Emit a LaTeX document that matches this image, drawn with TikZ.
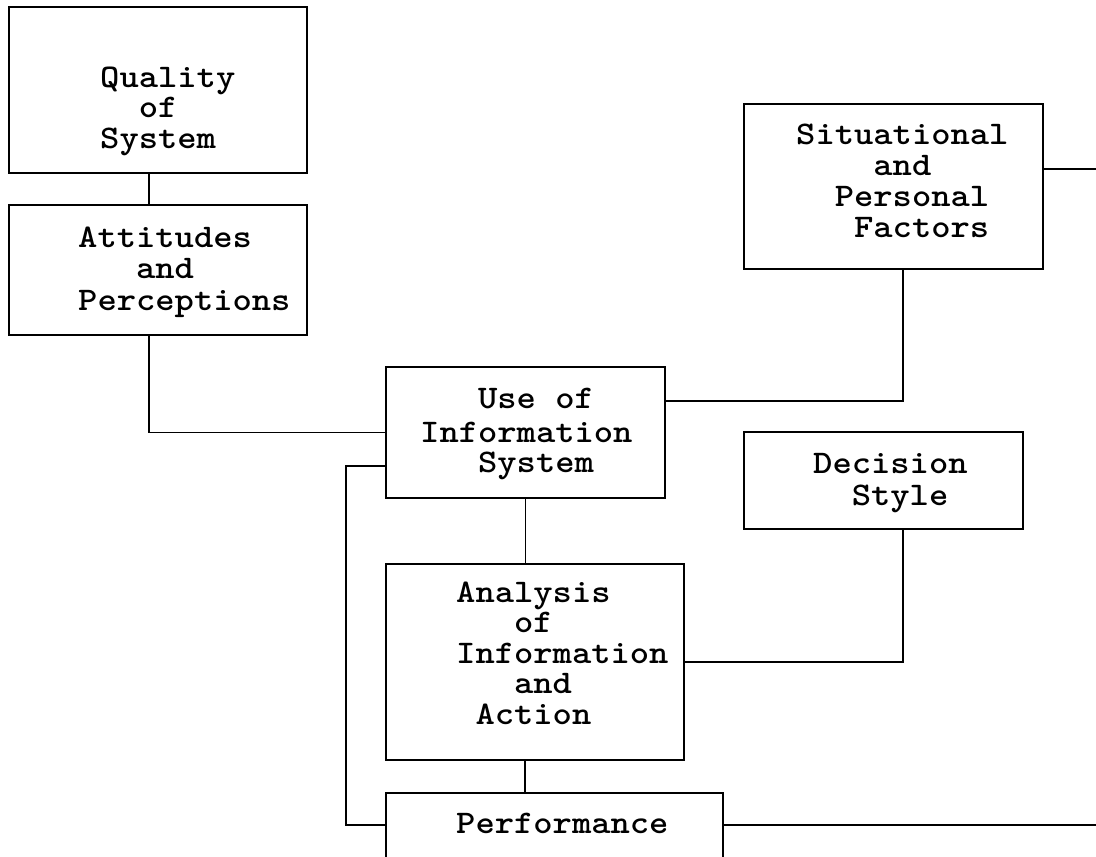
\documentclass[tikz,border=0pt]{standalone}
\usepackage{fontspec}
\usepackage{graphicx}
\usetikzlibrary{calc}
% typewriter lettering, widened to a 19.3pt character pitch
\newcommand\typed[1]{\scalebox{1.114}[1]{#1}}
\tikzset{
  box/.style={draw, line width=1.8pt, rectangle, inner sep=0pt},
  lbl/.style={anchor=base west, inner sep=0pt, text height=20pt, text depth=5pt,
    font=\ttfamily\bfseries\fontsize{33}{38}\selectfont},
  link/.style={draw, line width=1.8pt}
}
\begin{document}
\begin{tikzpicture}[x=1pt,y=-1pt]
\useasboundingbox (0,0) rectangle (1096,857);
\clip (0,0) rectangle (1096,857);
\def\cw{19.3}

% boxes
\node[box, minimum width=298pt, minimum height=166pt] (Q) at (158,90) {};
\node[box, minimum width=298pt, minimum height=130pt] (A) at (158,270) {};
\node[box, minimum width=279pt, minimum height=131pt] (U) at (525.5,432.5) {};
\node[box, minimum width=299pt, minimum height=165pt] (S) at (893.5,186.5) {};
\node[box, minimum width=279pt, minimum height=97pt] (D) at (883.5,480.5) {};
\node[box, minimum width=298pt, minimum height=196pt] (An) at (535,662) {};
\node[box, minimum width=337pt, minimum height=77pt] (P) at (554.5,831.5) {};

% box texts
\node[lbl] (q1) at (100,87) {\typed{Quality}};
\node[lbl] (q2) at ({100+2*\cw},117) {\typed{of}};
\node[lbl] (q3) at (100,148) {\typed{System}};

\node[lbl] (a1) at (78,247) {\typed{Attitudes}};
\node[lbl] (a2) at ({78+3*\cw},278) {\typed{and}};
\node[lbl] (a3) at (78,310) {\typed{Perceptions}};

\node[lbl] (u1) at ({420+3*\cw},408) {\typed{Use of}};
\node[lbl] (u2) at (420,442) {\typed{Information}};
\node[lbl] (u3) at ({420+3*\cw},472) {\typed{System}};

\node[lbl] (s1) at (796,144) {\typed{Situational}};
\node[lbl] (s2) at ({796+4*\cw},175) {\typed{and}};
\node[lbl] (s3) at ({796+2*\cw},206) {\typed{Personal}};
\node[lbl] (s4) at ({796+3*\cw},237) {\typed{Factors}};

\node[lbl] (d1) at (813,473) {\typed{Decision}};
\node[lbl] (d2) at ({813+2*\cw},505) {\typed{Style}};

\node[lbl] (n1) at (456,602) {\typed{Analysis}};
\node[lbl] (n2) at ({456+3*\cw},632) {\typed{of}};
\node[lbl] (n3) at (456,663) {\typed{Information}};
\node[lbl] (n4) at ({456+3*\cw},693) {\typed{and}};
\node[lbl] (n5) at ({456+1*\cw},724) {\typed{Action}};

\node[lbl] (p1) at (456,833) {\typed{Performance}};

% free ends running off the right edge
\coordinate (sOut) at (1110,169);
\coordinate (pOut) at (1110,825);

% connectors
\draw[link] ([xshift=-9pt]Q.south) -- ([xshift=-9pt]A.north);
\draw[link] ([xshift=-9pt]A.south) |- (U.west);
\draw[link] ([yshift=-33.5pt]U.west) -- ++(-39,0) |- ([yshift=6.5pt]P.west);
\draw[link] ([yshift=31.5pt]U.east) -| ([xshift=9.5pt]S.south);
\draw[link] ([yshift=17.5pt]S.east) -- (sOut);
\draw[link] (U.south) -- (U.south |- An.north);
\draw[link] ([xshift=-10pt]An.south) -- ([xshift=-10pt]An.south |- P.north);
\draw[link] ([xshift=19.5pt]D.south) |- (An.east);
\draw[link] ([yshift=6.5pt]P.east) -- (pOut);
\end{tikzpicture}
\end{document}
